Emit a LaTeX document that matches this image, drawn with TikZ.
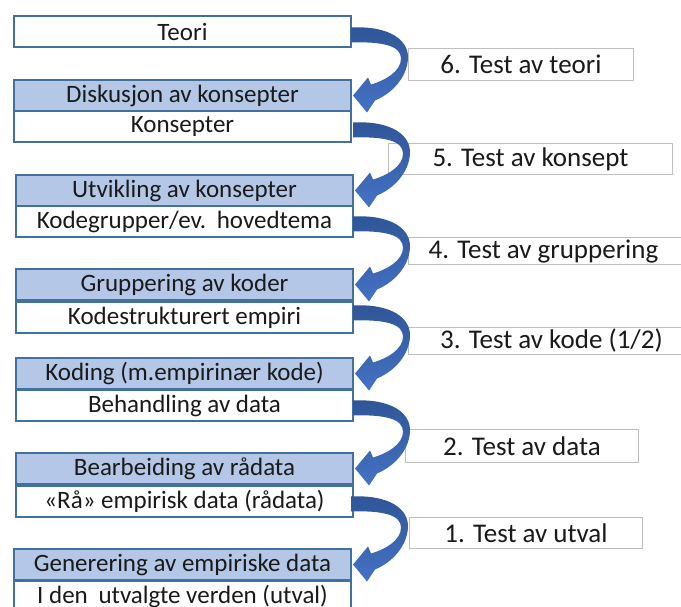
\documentclass[tikz,border=0pt]{standalone}
\usepackage{fontspec}
\setmainfont{Carlito}
\definecolor{boxline}{HTML}{41719C}
\definecolor{boxfill}{HTML}{B4C7E7}
\definecolor{arrdark}{HTML}{2F5597}
\definecolor{arrlight}{HTML}{4472C4}
\definecolor{lblline}{HTML}{BFBFBF}
\definecolor{txt}{HTML}{1A1A1A}
\tikzset{
  stage/.style={draw=boxline, line width=2pt, fill=boxfill, minimum width=337pt,
    minimum height=31pt, inner sep=0pt, anchor=north west, text=txt,
    font=\fontsize{25}{29}\selectfont},
  result/.style={stage, fill=white},
  testlbl/.style={draw=lblline, line width=1pt, fill=white, inner sep=0pt,
    anchor=north west, text=txt, font=\fontsize{27}{32}\selectfont},
  openlbl/.style={testlbl, draw=none, fill=none},
  lblrule/.style={draw=lblline, line width=1pt},
  bendarrow/.style={top color=arrdark, bottom color=arrlight}
}
\newcommand\curvearrow[1]{%
  \begin{scope}[shift={(#1)}]
    \path[bendarrow]
      (1,0) -- (16,-18) -- (19,-11)
      .. controls (33,-15) and (49,-24) .. (49,-37)
      .. controls (49,-50) and (30,-54) .. (-1,-53)
      -- (-1,-68)
      .. controls (38,-70) and (57,-55) .. (56,-37)
      .. controls (55,-18) and (40,-2) .. (23,5)
      -- (15,17) -- cycle;
  \end{scope}}
\begin{document}
\begin{tikzpicture}[x=1pt, y=-1pt]
\useasboundingbox (0,0) rectangle (681,607);
\clip (0,0) rectangle (681,607);
\fill[white] (0,0) rectangle (681,607);

% test labels
\node[testlbl, minimum width=225pt, minimum height=32pt] (t6) at (408,48) {6. Test av teori};
\node[testlbl, minimum width=284pt, minimum height=31pt] (t5) at (388,143) {5. Test av konsept};
\node[openlbl, minimum width=270pt, minimum height=26pt] (t4) at (408,238) {4. Test av gruppering};
\draw[lblrule] ([xshift=300pt]t4.north west) -- (t4.north west) -- (t4.south west) -- ([xshift=300pt]t4.south west);
\node[openlbl, minimum width=286pt, minimum height=26pt] (t3) at (408,327) {3. Test av kode (1/2)};
\draw[lblrule] ([xshift=300pt]t3.north west) -- (t3.north west) -- (t3.south west) -- ([xshift=300pt]t3.south west);
\node[testlbl, minimum width=233pt, minimum height=33pt] (t2) at (405,429) {2. Test av data};
\node[testlbl, minimum width=233pt, minimum height=31pt] (t1) at (409,517) {1. Test av utval};

% stage boxes
\node[result] (teori) at (13,15) {Teori};
\node[stage]  (disk)  at (13,79) {Diskusjon av konsepter};
\node[result] (kons)  at (13,110) {Konsepter};
\node[stage]  (utv)   at (15,174) {Utvikling av konsepter};
\node[result] (kgrp)  at (15,205) {Kodegrupper/ev.\hspace{0.12em} hovedtema};
\node[stage]  (grp)   at (15,268) {Gruppering av koder};
\node[result] (kstr)  at (15,301) {Kodestrukturert empiri};
\node[stage]  (kod)   at (15,357) {Koding (m.empirinær kode)};
\node[result] (beh)   at (15,389) {Behandling av data};
\node[stage]  (bearb) at (15,452) {Bearbeiding av rådata};
\node[result] (raa)   at (15,485) {«Rå» empirisk data (rådata)};
\node[stage]  (gen)   at (13,548) {Generering av empiriske data};
\node[result] (iden)  at (13,580) {I den\hspace{0.2em} utvalgte verden (utval)};

% curved arrows
\curvearrow{disk.east}
\curvearrow{utv.east}
\curvearrow{grp.east}
\curvearrow{kod.east}
\curvearrow{bearb.east}
\curvearrow{gen.east}
\end{tikzpicture}
\end{document}
